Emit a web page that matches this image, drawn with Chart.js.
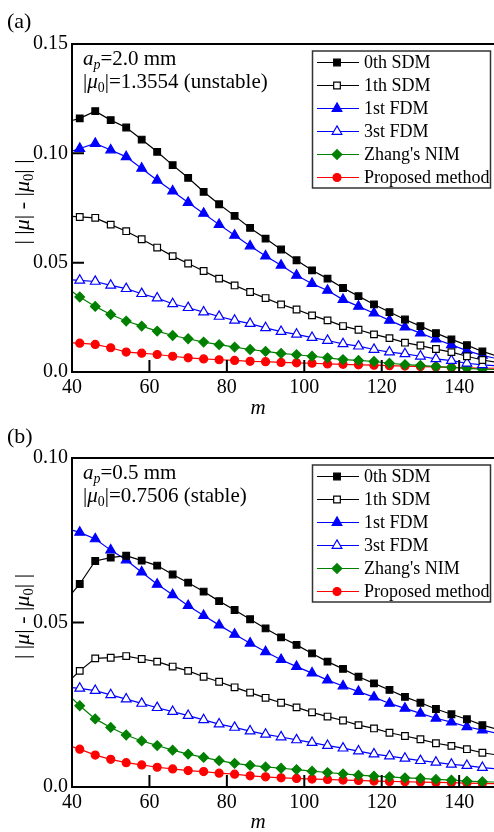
<!DOCTYPE html>
<html>
<head>
<meta charset="utf-8">
<script src="https://cdn.jsdelivr.net/npm/chart.js@4.4.1/dist/chart.umd.min.js"></script>
<style>
  html, body { margin: 0; padding: 0; background: #fff; overflow: hidden; }
  #wrap { position: relative; width: 494px; height: 832px; }
  canvas { position: absolute; left: 0; display: block; }
  #chartA { top: 0; }
  #chartB { top: 416px; }
</style>
</head>
<body>
<div id="wrap">
  <canvas id="chartA" width="494" height="416"></canvas>
  <canvas id="chartB" width="494" height="416"></canvas>
</div>
<script>
// Harmonic number m; markers every 4th value, line ends run to the frame edges
const mValues = [40, 42, 46, 50, 54, 58, 62, 66, 70, 74, 78, 82, 86, 90, 94, 98,
                 102, 106, 110, 114, 118, 122, 126, 130, 134, 138, 142, 146, 150];
const markerless = [40, 150];

const seriesNames = ["0th SDM", "1th SDM", "1st FDM", "3st FDM", "Zhang's NIM", "Proposed method"];

const xTickValues = [40, 60, 80, 100, 120, 140];
const xTickLabels = ["40", "60", "80", "100", "120", "140"];
const yTickValuesA = [0, 0.05, 0.10, 0.15];
const yTickLabelsA = ["0.0", "0.05", "0.10", "0.15"];
const yTickValuesB = [0, 0.05, 0.10];
const yTickLabelsB = ["0.0", "0.05", "0.10"];

// (a) a_p = 2.0 mm
const a_sdm0 = [0.1150, 0.1160, 0.1193, 0.1152, 0.1118, 0.1063, 0.1007, 0.0946, 0.0888, 0.0824, 0.0767, 0.0714, 0.0659, 0.0610, 0.0560, 0.0511, 0.0465, 0.0427, 0.0384, 0.0347, 0.0309, 0.0274, 0.0240, 0.0210, 0.0178, 0.0149, 0.0123, 0.0094, 0.0072];
const a_sdm1 = [0.0712, 0.0709, 0.0705, 0.0674, 0.0644, 0.0607, 0.0569, 0.0530, 0.0496, 0.0462, 0.0427, 0.0396, 0.0366, 0.0338, 0.0309, 0.0286, 0.0259, 0.0236, 0.0210, 0.0193, 0.0172, 0.0155, 0.0134, 0.0121, 0.0105, 0.0091, 0.0072, 0.0055, 0.0044];
const a_fdm1 = [0.1010, 0.1022, 0.1045, 0.1015, 0.0984, 0.0931, 0.0877, 0.0827, 0.0775, 0.0725, 0.0674, 0.0625, 0.0576, 0.0530, 0.0488, 0.0442, 0.0404, 0.0373, 0.0331, 0.0300, 0.0269, 0.0236, 0.0205, 0.0178, 0.0150, 0.0124, 0.0098, 0.0076, 0.0060];
const a_fdm3 = [0.0421, 0.0419, 0.0414, 0.0396, 0.0381, 0.0358, 0.0338, 0.0312, 0.0294, 0.0274, 0.0254, 0.0236, 0.0221, 0.0202, 0.0185, 0.0172, 0.0157, 0.0144, 0.0129, 0.0118, 0.0103, 0.0091, 0.0083, 0.0072, 0.0060, 0.0052, 0.0040, 0.0033, 0.0028];
const a_nim  = [0.0368, 0.0343, 0.0300, 0.0263, 0.0233, 0.0210, 0.0187, 0.0167, 0.0152, 0.0137, 0.0125, 0.0114, 0.0103, 0.0094, 0.0085, 0.0079, 0.0072, 0.0065, 0.0057, 0.0053, 0.0048, 0.0040, 0.0034, 0.0030, 0.0025, 0.0021, 0.0017, 0.0013, 0.0011];
const a_prop = [0.0133, 0.0132, 0.0126, 0.0111, 0.0091, 0.0086, 0.0080, 0.0072, 0.0065, 0.0060, 0.0056, 0.0053, 0.0049, 0.0047, 0.0044, 0.0042, 0.0040, 0.0037, 0.0035, 0.0033, 0.0031, 0.0029, 0.0027, 0.0025, 0.0023, 0.0021, 0.0019, 0.0018, 0.0017];

// (b) a_p = 0.5 mm
const b_sdm0 = [0.0589, 0.0617, 0.0687, 0.0697, 0.0703, 0.0688, 0.0673, 0.0646, 0.0621, 0.0594, 0.0565, 0.0538, 0.0510, 0.0482, 0.0455, 0.0432, 0.0406, 0.0381, 0.0359, 0.0335, 0.0315, 0.0295, 0.0274, 0.0256, 0.0237, 0.0221, 0.0206, 0.0188, 0.0175];
const b_sdm1 = [0.0330, 0.0353, 0.0391, 0.0393, 0.0398, 0.0389, 0.0381, 0.0366, 0.0353, 0.0335, 0.0320, 0.0303, 0.0287, 0.0271, 0.0256, 0.0242, 0.0227, 0.0214, 0.0202, 0.0188, 0.0178, 0.0165, 0.0155, 0.0145, 0.0133, 0.0125, 0.0115, 0.0104, 0.0097];
const b_fdm1 = [0.0781, 0.0774, 0.0754, 0.0720, 0.0690, 0.0653, 0.0616, 0.0584, 0.0551, 0.0521, 0.0492, 0.0464, 0.0437, 0.0411, 0.0387, 0.0366, 0.0346, 0.0325, 0.0307, 0.0290, 0.0273, 0.0254, 0.0239, 0.0224, 0.0209, 0.0197, 0.0183, 0.0173, 0.0163];
const b_fdm3 = [0.0302, 0.0300, 0.0293, 0.0280, 0.0267, 0.0254, 0.0241, 0.0229, 0.0217, 0.0204, 0.0191, 0.0181, 0.0170, 0.0160, 0.0152, 0.0143, 0.0135, 0.0126, 0.0118, 0.0109, 0.0100, 0.0094, 0.0087, 0.0080, 0.0075, 0.0069, 0.0065, 0.0059, 0.0055];
const b_nim  = [0.0270, 0.0247, 0.0207, 0.0181, 0.0158, 0.0140, 0.0126, 0.0112, 0.0100, 0.0090, 0.0080, 0.0072, 0.0066, 0.0061, 0.0057, 0.0053, 0.0048, 0.0044, 0.0040, 0.0036, 0.0033, 0.0031, 0.0028, 0.0026, 0.0023, 0.0021, 0.0018, 0.0016, 0.0015];
const b_prop = [0.0123, 0.0115, 0.0097, 0.0084, 0.0074, 0.0067, 0.0060, 0.0055, 0.0050, 0.0047, 0.0042, 0.0039, 0.0034, 0.0031, 0.0028, 0.0026, 0.0024, 0.0023, 0.0021, 0.0020, 0.0018, 0.0017, 0.0016, 0.0015, 0.0014, 0.0013, 0.0012, 0.0011, 0.0010];

const SERIF = '"Liberation Serif", "Times New Roman", serif';

// marker / line style for each method
const styles = [
  { color: '#000000', fill: '#000000', shape: 'rect',     r: 4.7 },
  { color: '#000000', fill: '#ffffff', shape: 'rect',     r: 4.7 },
  { color: '#0000ff', fill: '#0000ff', shape: 'triangle', r: 5.6 },
  { color: '#0000ff', fill: '#ffffff', shape: 'triangle', r: 5.6 },
  { color: '#008000', fill: '#008000', shape: 'rectRot',  r: 4.8 },
  { color: '#ff0000', fill: '#ff0000', shape: 'circle',   r: 4.0 }
];

function makeDatasets(seriesList) {
  return seriesList.map((vals, i) => {
    const s = styles[i];
    return {
      label: seriesNames[i],
      data: mValues.map((m, k) => ({ x: m, y: vals[k] })),
      borderColor: s.color,
      borderWidth: 1.2,
      tension: 0,
      pointStyle: s.shape,
      pointBackgroundColor: s.fill,
      pointBorderColor: s.color,
      pointBorderWidth: 1.2,
      pointRadius: ctx => (ctx.raw && markerless.includes(ctx.raw.x)) ? 0 : s.r,
      pointHoverRadius: 0
    };
  });
}

function drawRich(ctx, parts, x, y, size) {
  let cx = x;
  for (const p of parts) {
    const fs = p.sub ? size * 0.66 : size;
    ctx.font = (p.italic ? 'italic ' : '') + fs + 'px ' + SERIF;
    ctx.fillText(p.t, cx, y + (p.sub ? size * 0.2 : 0));
    cx += ctx.measureText(p.t).width;
  }
  return cx - x;
}
function richWidth(ctx, parts, size) {
  let w = 0;
  for (const p of parts) {
    const fs = p.sub ? size * 0.66 : size;
    ctx.font = (p.italic ? 'italic ' : '') + fs + 'px ' + SERIF;
    w += ctx.measureText(p.t).width;
  }
  return w;
}

function drawMarker(ctx, s, x, y) {
  ctx.save();
  ctx.fillStyle = s.fill;
  ctx.strokeStyle = s.color;
  ctx.lineWidth = 1.2;
  if (Chart.helpers && Chart.helpers.drawPoint) {
    Chart.helpers.drawPoint(ctx, { pointStyle: s.shape, radius: s.r, borderWidth: 1.2, rotation: 0 }, x, y);
  }
  ctx.restore();
}

function panelPlugin(p) {
  return {
    id: 'panelDecor' + p.tag,
    afterDraw(chart) {
      const ctx = chart.ctx;
      const a = chart.chartArea;
      const xs = chart.scales.x, ys = chart.scales.y;
      ctx.save();
      ctx.strokeStyle = '#000';
      ctx.fillStyle = '#000';

      // frame: left, bottom, top
      ctx.lineWidth = 2;
      ctx.beginPath();
      ctx.moveTo(a.left, a.top); ctx.lineTo(a.right, a.top);
      ctx.moveTo(a.left, a.top - 1); ctx.lineTo(a.left, a.bottom + 1);
      ctx.moveTo(a.left - 1, a.bottom); ctx.lineTo(a.right, a.bottom);
      ctx.stroke();

      // inward tick marks
      ctx.beginPath();
      xTickValues.forEach(v => {
        const px = xs.getPixelForValue(v);
        ctx.moveTo(px, a.bottom); ctx.lineTo(px, a.bottom - 12);
      });
      p.yTicks.forEach(v => {
        const py = ys.getPixelForValue(v);
        ctx.moveTo(a.left, py); ctx.lineTo(a.left + 12, py);
      });
      ctx.stroke();

      // panel tag
      ctx.textBaseline = 'alphabetic';
      ctx.textAlign = 'left';
      ctx.font = '22px ' + SERIF;
      ctx.fillText(p.tag, 7, p.tagY);

      // x-axis title
      ctx.font = 'italic 21px ' + SERIF;
      ctx.textAlign = 'center';
      ctx.fillText('m', 258, p.mY);
      ctx.textAlign = 'left';

      // y-axis title, rotated
      const yParts = [{ t: '| |' }, { t: 'μ', italic: true }, { t: '| - |' }, { t: 'μ', italic: true }, { t: '0', sub: true }, { t: '| |' }];
      const ySize = 22;
      const yw = richWidth(ctx, yParts, ySize);
      ctx.save();
      ctx.translate(29, (a.top + a.bottom) / 2 - 6);
      ctx.rotate(-Math.PI / 2);
      drawRich(ctx, yParts, -yw / 2, 0, ySize);
      ctx.restore();

      // condition annotation
      const aSize = 21;
      drawRich(ctx, [{ t: 'a', italic: true }, { t: 'p', italic: true, sub: true }, { t: '=' + p.ap }], a.left + 11, a.top + 21, aSize);
      drawRich(ctx, [{ t: '|' }, { t: 'μ', italic: true }, { t: '0', sub: true }, { t: '|=' + p.mu }], a.left + 11, a.top + 44, aSize);

      // legend box
      const lx = a.right - 181.5, ly = a.top + 7, lw = 178, lh = 137;
      ctx.fillStyle = '#fff';
      ctx.fillRect(lx, ly, lw, lh);
      ctx.strokeStyle = '#333';
      ctx.lineWidth = 1.5;
      ctx.strokeRect(lx, ly, lw, lh);
      ctx.textBaseline = 'middle';
      seriesNames.forEach((name, i) => {
        const s = styles[i];
        const cy = ly + 11.5 + i * 23;
        ctx.strokeStyle = s.color;
        ctx.lineWidth = 1.2;
        ctx.beginPath();
        ctx.moveTo(lx + 4.5, cy); ctx.lineTo(lx + 46.5, cy);
        ctx.stroke();
        drawMarker(ctx, s, lx + 24.5, cy);
        ctx.fillStyle = '#000';
        ctx.font = '18px ' + SERIF;
        ctx.fillText(name, lx + 51.5, cy + 1);
      });
      ctx.restore();
    }
  };
}

function makeChart(id, seriesList, p) {
  const tickFont = { family: SERIF, size: 20 };
  return new Chart(document.getElementById(id), {
    type: 'line',
    data: { datasets: makeDatasets(seriesList) },
    options: {
      responsive: false,
      animation: false,
      events: [],
      layout: { padding: { top: p.padTop, left: 0, right: 0, bottom: 0 } },
      plugins: { legend: { display: false }, tooltip: { enabled: false } },
      scales: {
        x: {
          type: 'linear', min: 40, max: 149,
          grid: { display: false, drawTicks: false },
          border: { display: false },
          afterBuildTicks: s => { s.ticks = xTickValues.map(v => ({ value: v })); },
          ticks: {
            color: '#000', font: tickFont, padding: 4, maxRotation: 0, autoSkip: false,
            callback: v => xTickLabels[xTickValues.indexOf(v)]
          },
          afterFit: s => { s.height = p.xAxisH; }
        },
        y: {
          type: 'linear', min: 0, max: p.ymax,
          grid: { display: false, drawTicks: false },
          border: { display: false },
          afterBuildTicks: s => { s.ticks = p.yTicks.map(v => ({ value: v })); },
          ticks: {
            color: '#000', font: tickFont, padding: 4, autoSkip: false,
            callback: v => p.yLabels[p.yTicks.indexOf(v)]
          },
          afterFit: s => { s.width = 72; }
        }
      }
    },
    plugins: [panelPlugin(p)]
  });
}

makeChart('chartA', [a_sdm0, a_sdm1, a_fdm1, a_fdm3, a_nim, a_prop], {
  tag: '(a)', tagY: 28, mY: 414, padTop: 44, xAxisH: 44, ymax: 0.15,
  yTicks: yTickValuesA, yLabels: yTickLabelsA,
  ap: '2.0 mm', mu: '1.3554 (unstable)'
});
makeChart('chartB', [b_sdm0, b_sdm1, b_fdm1, b_fdm3, b_nim, b_prop], {
  tag: '(b)', tagY: 27, mY: 412, padTop: 42, xAxisH: 45, ymax: 0.10,
  yTicks: yTickValuesB, yLabels: yTickLabelsB,
  ap: '0.5 mm', mu: '0.7506 (stable)'
});
</script>
</body>
</html>
